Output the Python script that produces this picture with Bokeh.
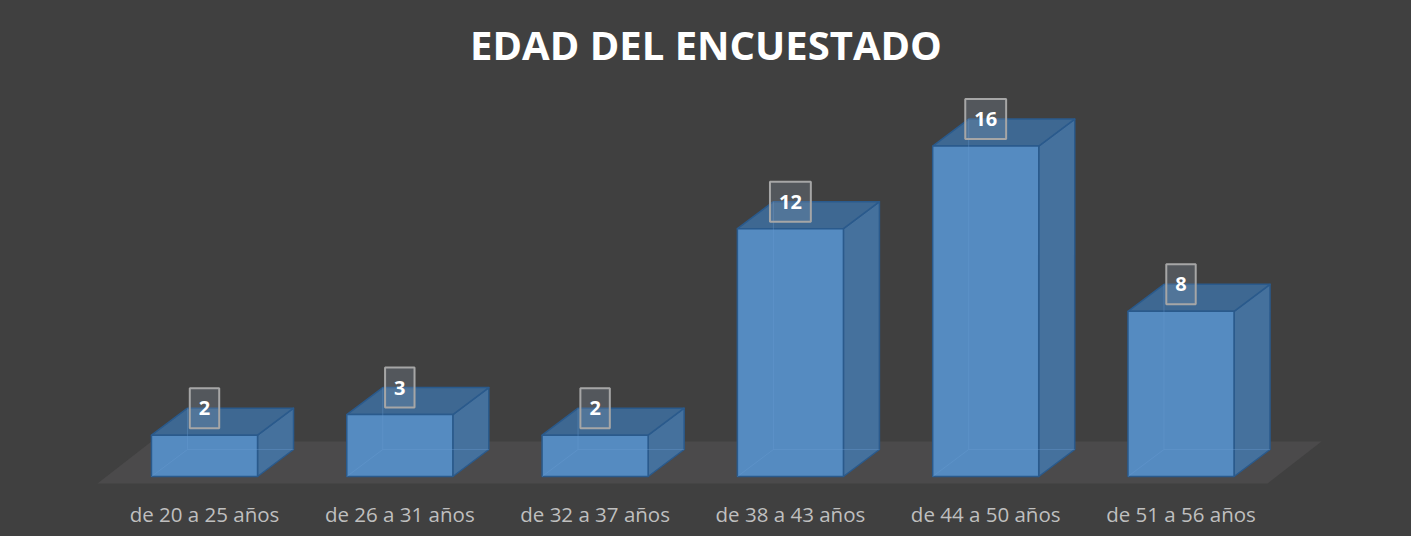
from bokeh.plotting import figure
from bokeh.models import ColumnDataSource, Range1d
from bokeh.core.properties import value
from bokeh.embed import file_html
from bokeh.resources import INLINE

# ---- data ----
categories = ["de 20 a 25 años", "de 26 a 31 años", "de 32 a 37 años",
              "de 38 a 43 años", "de 44 a 50 años", "de 51 a 56 años"]
counts = [2, 3, 2, 12, 16, 8]
title_text = "EDAD DEL ENCUESTADO"

# ---- geometry / styling ----
W, H = 1411, 536
TOP_BORDER = 76       # space reserved above the plotting frame (title)
PX_X, PX_Y = 195.3, 20.65
X0_PX, Y0_PX = 204, 476
BAR_HALF = 0.2715
DX, DY = 36 / PX_X, 27 / PX_Y
FLOOR_FRONT, FLOOR_BACK = -7 / PX_Y, 35 / PX_Y
FLOOR_LEFT, FLOOR_RIGHT_PAD = -0.548, 0.443
FLOOR_DX = 54 / PX_X
LABEL_Y = -37 / PX_Y

BG = "#404040"
FRONT, TOP, SIDE, EDGE = "#558bc1", "#3e6892", "#45719d", "#2a5a8c"

x_start = -X0_PX / PX_X
y_start = -(H - Y0_PX) / PX_Y

p = figure(width=W, height=H, output_backend="svg", toolbar_location=None,
           x_range=Range1d(x_start, x_start + W / PX_X),
           y_range=Range1d(y_start, y_start + (H - TOP_BORDER) / PX_Y),
           min_border=0, min_border_top=TOP_BORDER,
           background_fill_color=BG, border_fill_color=BG,
           outline_line_color=None)
p.styles = {"background-color": BG}
p.axis.visible = False
p.grid.visible = False
p.title.text = title_text
p.title.align = "center"
p.title.text_color = "white"
p.title.text_font = "Open Sans"
p.title.text_font_size = "40px"
p.title.text_font_style = "bold"

idx = list(range(len(categories)))
n = len(categories)

# floor
fl, fr = FLOOR_LEFT, (n - 1) + FLOOR_RIGHT_PAD
p.patch([fl, fr, fr + FLOOR_DX, fl + FLOOR_DX],
        [FLOOR_FRONT, FLOOR_FRONT, FLOOR_BACK, FLOOR_BACK],
        fill_color="#4b4a4b", line_color=None)

# 3D bar faces
top_xs, top_ys, side_xs, side_ys = [], [], [], []
for i, v in zip(idx, counts):
    l, r = i - BAR_HALF, i + BAR_HALF
    top_xs.append([l, r, r + DX, l + DX])
    top_ys.append([v, v, v + DY, v + DY])
    side_xs.append([r, r + DX, r + DX, r])
    side_ys.append([0, DY, v + DY, v])

p.patches(side_xs, side_ys, fill_color=SIDE, line_color=EDGE, line_width=1.5,
          line_join="round")
p.patches(top_xs, top_ys, fill_color=TOP, line_color=EDGE, line_width=1.5,
          line_join="round")
src = ColumnDataSource(dict(x=idx, v=counts, z=[0] * n,
                            ly=[c + DY for c in counts],
                            lab=[str(c) for c in counts],
                            cat=categories, cy=[LABEL_Y] * n))
p.vbar(x="x", top="v", bottom="z", width=2 * BAR_HALF, source=src,
       fill_color=FRONT, line_color=EDGE, line_width=1.5)

# faint hidden edges seen through the translucent bars
hid_xs, hid_ys = [], []
for i, v in zip(idx, counts):
    l, r = i - BAR_HALF, i + BAR_HALF
    hid_xs.append([l, l + DX, r + DX]); hid_ys.append([0, DY, DY])
    hid_xs.append([l + DX, l + DX]); hid_ys.append([DY, v + DY])
p.multi_line(hid_xs, hid_ys, line_color="#6b9fd3", line_alpha=0.35, line_width=1)

# category labels
p.text(x="x", y="cy", text="cat", source=src, text_align="center",
       text_baseline="middle", text_color="#bfbfbf",
       text_font=value("Open Sans"), text_font_size="20.5px")

# value labels
p.text(x="x", y="ly", text="lab", source=src, text_align="center",
       text_baseline="middle", text_color="white",
       text_font=value("Open Sans"), text_font_size="20px",
       text_font_style="bold",
       background_fill_color="#8a9bb0", background_fill_alpha=0.25,
       border_line_color="#a6a6a6", border_line_width=2, padding=(9, 13))

open("out.html", "w").write(file_html(p, INLINE))
